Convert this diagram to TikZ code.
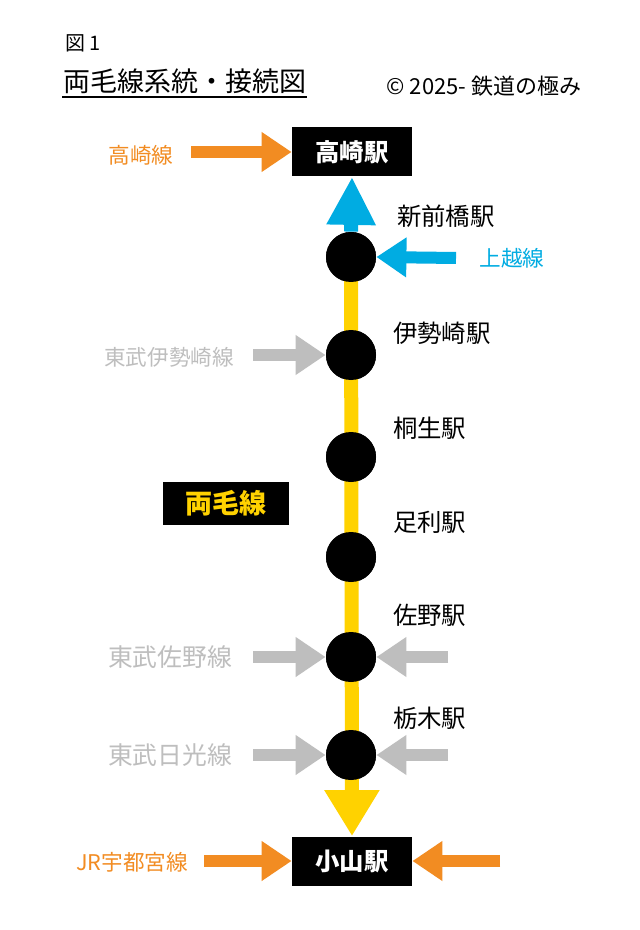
\documentclass[tikz,border=0pt]{standalone}
\usepackage{fontspec}
\setmainfont{Noto Sans CJK JP}
\usetikzlibrary{arrows.meta}
\usetikzlibrary{positioning}
\definecolor{lineorange}{RGB}{242,140,34}
\definecolor{lineblue}{RGB}{0,172,226}
\definecolor{linegray}{RGB}{190,190,190}
\definecolor{lineyellow}{RGB}{255,210,0}
\tikzset{
  station/.style={circle,fill=black,minimum size=25pt,inner sep=0pt},
  stbox/.style={fill=black,text=white,font=\fontsize{12.2}{12.2}\selectfont\bfseries,minimum width=60pt,minimum height=24.5pt},
  stlabel/.style={anchor=west,font=\fontsize{12.2}{12.2}\selectfont},
  linelabel/.style={font=\fontsize{10.8}{10.8}\selectfont},
  feed/.style={line width=6pt,-{Triangle[width=19pt,length=15pt]}},
}
\begin{document}
\begin{tikzpicture}[x=0.5pt,y=-0.5pt]
  \useasboundingbox[fill=white] (0,0) rectangle (640,930);
  \node[font=\fontsize{10}{10}\selectfont] at (83,43) {図 1};
  \node[font=\fontsize{13.5}{13.5}\selectfont] (title) at (185,81) {両毛線系統・接続図};
  \draw[line width=1pt] (62,97) -- (307,97);
  \node[font=\fontsize{11}{11}\selectfont] at (484,86) {© 2025- 鉄道の極み};

  % stations
  \node[stbox] (takasaki) at (352,152) {高崎駅};
  \node[stbox] (oyama) at (352,861) {小山駅};
  \node[station] (shinmaebashi) at (351,257) {};
  \node[station] (isesaki) at (351,355) {};
  \node[station] (kiryu) at (351,457) {};
  \node[station] (ashikaga) at (351,557) {};
  \node[station] (sano) at (351,657) {};
  \node[station] (tochigi) at (351,755) {};

  % ryomo line
  \draw[lineyellow,line width=7pt,-{Triangle[width=26pt,length=23pt]}] (351,257) -- (oyama.north);
  \foreach \s in {shinmaebashi,isesaki,kiryu,ashikaga,sano,tochigi}
    \node[station] at (\s) {};
  \draw[lineblue,line width=7pt,-{Triangle[width=23pt,length=24pt]}] (shinmaebashi.north) -- (takasaki.south);

  \node[stlabel] at (390,216) {新前橋駅};
  \node[stlabel] at (386,333) {伊勢崎駅};
  \node[stlabel] at (386,428) {桐生駅};
  \node[stlabel] at (386,522) {足利駅};
  \node[stlabel] at (386,615) {佐野駅};
  \node[stlabel] at (386,718) {栃木駅};

  \node[fill=black,text=lineyellow,font=\fontsize{13.5}{13.5}\selectfont\bfseries,minimum width=63pt,minimum height=21.5pt] (ryomo) at (226,503) {両毛線};

  % connecting lines
  \node[linelabel,text=lineorange] (takasakisen) at (141,155) {高崎線};
  \coordinate (takasakiw) at (191,152);
  \draw[feed,lineorange] (takasakiw) -- (takasaki.west);

  \node[linelabel,text=lineblue] (joetsu) at (512,258) {上越線};
  \coordinate (joetsue) at (456,258);
  \draw[feed,lineblue] (joetsue) -- (shinmaebashi.east);

  \node[linelabel,text=linegray] (tobuisesaki) at (169,357) {東武伊勢崎線};
  \coordinate (isesakiw) at (253,355);
  \draw[feed,linegray] (isesakiw) -- (isesaki.west);

  \node[linelabel,text=linegray,font=\fontsize{12.4}{12.4}\selectfont] (tobusano) at (170,657) {東武佐野線};
  \coordinate (sanow) at (253,657);
  \coordinate (sanoe) at (448,657);
  \draw[feed,linegray] (sanow) -- (sano.west);
  \draw[feed,linegray] (sanoe) -- (sano.east);

  \node[linelabel,text=linegray,font=\fontsize{12.4}{12.4}\selectfont] (tobunikko) at (170,755) {東武日光線};
  \coordinate (tochigiw) at (253,755);
  \coordinate (tochigie) at (448,755);
  \draw[feed,linegray] (tochigiw) -- (tochigi.west);
  \draw[feed,linegray] (tochigie) -- (tochigi.east);

  \node[linelabel,text=lineorange] (utsunomiya) at (132,862) {JR宇都宮線};
  \coordinate (oyamaw) at (204,861);
  \coordinate (oyamae) at (500,861);
  \draw[feed,lineorange] (oyamaw) -- (oyama.west);
  \draw[feed,lineorange] (oyamae) -- (oyama.east);
\end{tikzpicture}
\end{document}
